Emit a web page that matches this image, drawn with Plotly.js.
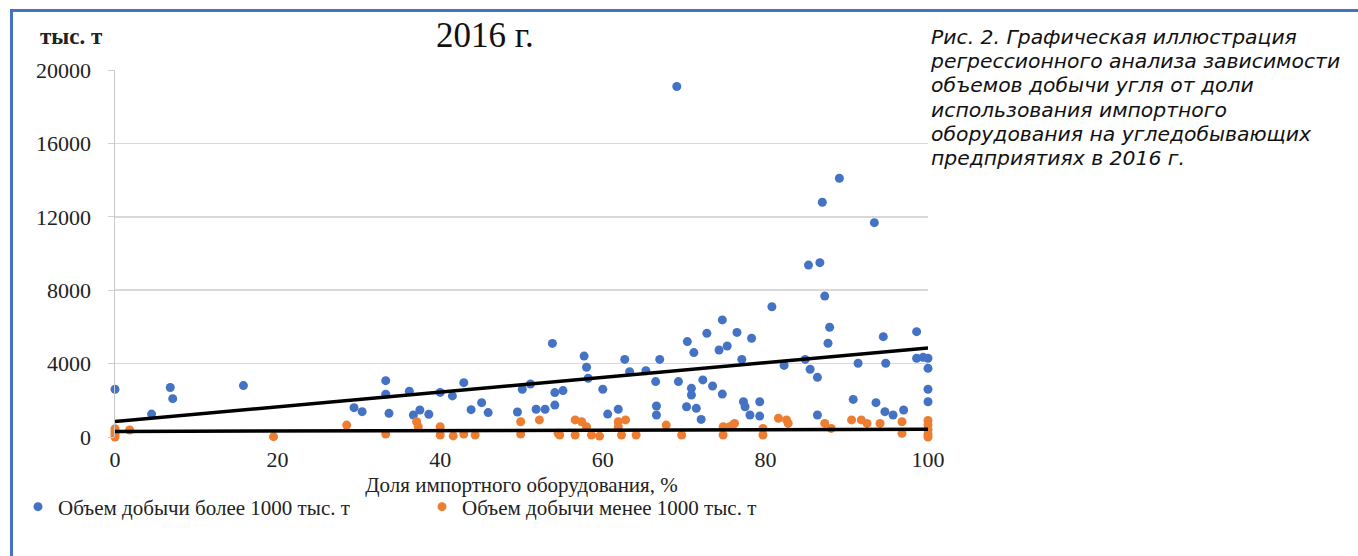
<!DOCTYPE html>
<html>
<head>
<meta charset="utf-8">
<script src="https://cdn.plot.ly/plotly-3.0.1.min.js"></script>
<style>
  html, body { margin: 0; padding: 0; background: #ffffff; }
  #wrap { position: relative; width: 1358px; height: 556px; overflow: hidden; }
  #chart { position: absolute; left: 0; top: 0; width: 1358px; height: 556px; }
  #frame { position: absolute; left: 10px; top: 9px; width: 1400px; height: 600px;
           border-left: 3px solid #4472c4; border-top: 3px solid #4472c4; pointer-events: none; }
  #caption { position: absolute; left: 931px; top: 25px; margin: 0;
             font-family: "DejaVu Sans", "Noto Sans", sans-serif; font-style: italic;
             font-size: 19px; line-height: 24.2px; color: #111111; white-space: nowrap;
             transform: scaleX(1.07); transform-origin: left top; }
</style>
</head>
<body>
<div id="wrap">
  <div id="chart"></div>
  <div id="caption"></div>
  <div id="frame"></div>
</div>
<script>
// ---- Data ----
const chartTitle = "2016 г.";
const yUnit = "тыс. т";
const xTitle = "Доля импортного оборудования, %";
const seriesBigName = "Объем добычи более 1000 тыс. т";
const seriesSmallName = "Объем добычи менее 1000 тыс. т";
const caption = [
  "Рис. 2. Графическая иллюстрация",
  "регрессионного анализа зависимости",
  "объемов добычи угля от доли",
  "использования импортного",
  "оборудования на угледобывающих",
  "предприятиях в 2016 г."
];

const xTicks = [0, 20, 40, 60, 80, 100];
const yTicks = [0, 4000, 8000, 12000, 16000, 20000];

// Mines producing more than 1000 thousand t
const bigX = [0, 4.5, 6.8, 7.1, 15.8, 29.4, 30.4, 33.3, 33.3, 33.7, 36.2, 36.7, 37.5, 38.6, 40.0,
  41.5, 42.9, 43.8, 45.1, 45.9, 49.5, 50.1, 51.1, 51.8, 52.9, 53.8, 54.1, 54.1, 55.1, 57.7,
  58.0, 58.2, 60.0, 60.6, 61.9, 62.7, 63.3, 65.3, 66.5, 67.0, 66.6, 66.6, 69.1, 69.3, 70.4,
  71.2, 70.9, 70.9, 70.3, 71.5, 72.1, 72.3, 73.5, 74.7, 72.8, 74.7, 74.3, 75.3, 76.5, 77.1,
  78.3, 77.3, 77.5, 79.3, 78.1, 79.3, 80.8, 82.3, 84.9, 85.5, 86.4, 85.3, 86.7, 87.0, 87.3,
  87.9, 87.7, 86.4, 89.1, 91.4, 90.8, 93.4, 94.5, 94.8, 93.6, 94.7, 95.7, 97.0, 98.6, 98.6,
  99.4, 100, 100, 100, 100];
const bigY = [2600, 1250, 2700, 2090, 2800, 1600, 1380, 3070, 2330, 1290, 2500, 1200, 1470, 1240, 2430,
  2240, 2960, 1490, 1870, 1330, 1360, 2600, 2890, 1510, 1510, 5100, 1740, 2420, 2530, 4410,
  3800, 3200, 2600, 1250, 1510, 4230, 3560, 3610, 3020, 4230, 1690, 1200, 19100, 3020, 5200,
  4600, 2650, 2290, 1650, 1560, 960, 3110, 2780, 2340, 5650, 6380, 4740, 4960, 5700, 4230,
  5380, 1920, 1650, 1920, 1200, 1140, 7100, 3900, 4230, 3690, 3250, 9370, 9500, 12790, 7680,
  5980, 5110, 1200, 14100, 4020, 2050, 11680, 5470, 4020, 1870, 1380, 1200, 1470, 5740, 4290,
  4340, 4290, 3740, 2600, 1920];

// Mines producing less than 1000 thousand t
const smallX = [0, 0, 0, 0, 1.8, 19.5, 28.5, 33.3, 37.1, 37.3, 40.0, 40.0, 41.6, 42.9, 44.3,
  49.9, 49.9, 52.2, 54.5, 54.7, 56.6, 57.4, 56.6, 58.0, 58.6, 59.6, 61.9, 62.8, 61.9, 62.3,
  64.1, 67.8, 69.7, 74.8, 76.0, 74.8, 75.6, 76.2, 79.7, 79.7, 81.6, 82.6, 82.8, 87.3, 88.1,
  90.6, 91.8, 92.5, 94.1, 96.8, 96.8, 100, 100, 100, 100, 100];
const smallY = [0, 150, 300, 450, 380, 20, 650, 160, 830, 560, 560, 110, 60, 160, 110,
  830, 160, 930, 200, 110, 930, 830, 110, 560, 110, 50, 830, 930, 560, 110,
  110, 650, 110, 560, 650, 110, 560, 740, 470, 110, 1020, 930, 740, 740, 470,
  930, 930, 740, 740, 830, 200, 900, 650, 400, 150, 0];

// Linear regression lines (values at x = 0 and x = 100)
const trendX = [0, 100];
const trendBig = [840, 4850];
const trendSmall = [300, 420];

// ---- Styles ----
const blue = "#4472c4";
const orange = "#ed7d31";
const serif = "Liberation Serif, Times New Roman, serif";

// plot area in pixels: x 115..928, y 70..437
const plotTop = 70, plotBottom = 437, plotLeft = 115, plotWidth = 813;
const py = p => (plotBottom - p) / (plotBottom - plotTop);
const px = p => (p - plotLeft) / plotWidth;

// caption as real text beside the chart
document.getElementById("caption").innerHTML = caption.join("<br>");

const traces = [
  { x: bigX, y: bigY, type: "scatter", mode: "markers", name: seriesBigName,
    marker: { color: blue, size: 9 }, cliponaxis: false },
  { x: smallX, y: smallY, type: "scatter", mode: "markers", name: seriesSmallName,
    marker: { color: orange, size: 9 }, cliponaxis: false },
  { x: trendX, y: trendBig, type: "scatter", mode: "lines", showlegend: false,
    line: { color: "#000000", width: 3.5 }, cliponaxis: false, hoverinfo: "skip" },
  { x: trendX, y: trendSmall, type: "scatter", mode: "lines", showlegend: false,
    line: { color: "#000000", width: 3.5 }, cliponaxis: false, hoverinfo: "skip" }
];

const layout = {
  width: 1358, height: 556,
  paper_bgcolor: "#ffffff", plot_bgcolor: "#ffffff",
  margin: { l: 115, r: 430, t: 70, b: 119 },
  showlegend: true,
  title: { text: chartTitle, font: { family: serif, size: 35, color: "#111111" },
           xref: "paper", x: 0.455, xanchor: "center", yref: "container", y: 1 - 35 / 556, yanchor: "middle" },
  xaxis: {
    range: [0, 100], tickvals: xTicks, ticktext: xTicks.map(String),
    showgrid: false, zeroline: false, showline: false,
    ticks: "outside", ticklen: 3, tickcolor: "rgba(0,0,0,0)",
    tickfont: { family: serif, size: 22, color: "#222222" },
    title: { text: xTitle, font: { family: serif, size: 21, color: "#222222" }, standoff: 5 }
  },
  yaxis: {
    range: [0, 20000], tickvals: yTicks, ticktext: yTicks.map(String),
    showgrid: true, gridcolor: "#d9d9d9", gridwidth: 1.5,
    zeroline: false, showline: true, linecolor: "#c8c8c8", linewidth: 1.5,
    ticks: "outside", ticklen: 6, tickcolor: "#d0d0d0", ticklabelstandoff: 12,
    tickfont: { family: serif, size: 22, color: "#222222" }
  },
  legend: {
    orientation: "h", x: px(18), xanchor: "left", y: py(507), yanchor: "middle",
    font: { family: serif, size: 21, color: "#222222" },
    itemwidth: 30, entrywidth: 359, entrywidthmode: "pixels",
    bgcolor: "rgba(0,0,0,0)"
  },
  annotations: [
    { text: "<b>" + yUnit + "</b>", xref: "paper", yref: "paper", x: px(71), y: py(37),
      xanchor: "center", yanchor: "middle", showarrow: false,
      font: { family: serif, size: 23, color: "#222222" } }
  ]
};

Plotly.newPlot("chart", traces, layout, { displayModeBar: false, staticPlot: true });
</script>
</body>
</html>
